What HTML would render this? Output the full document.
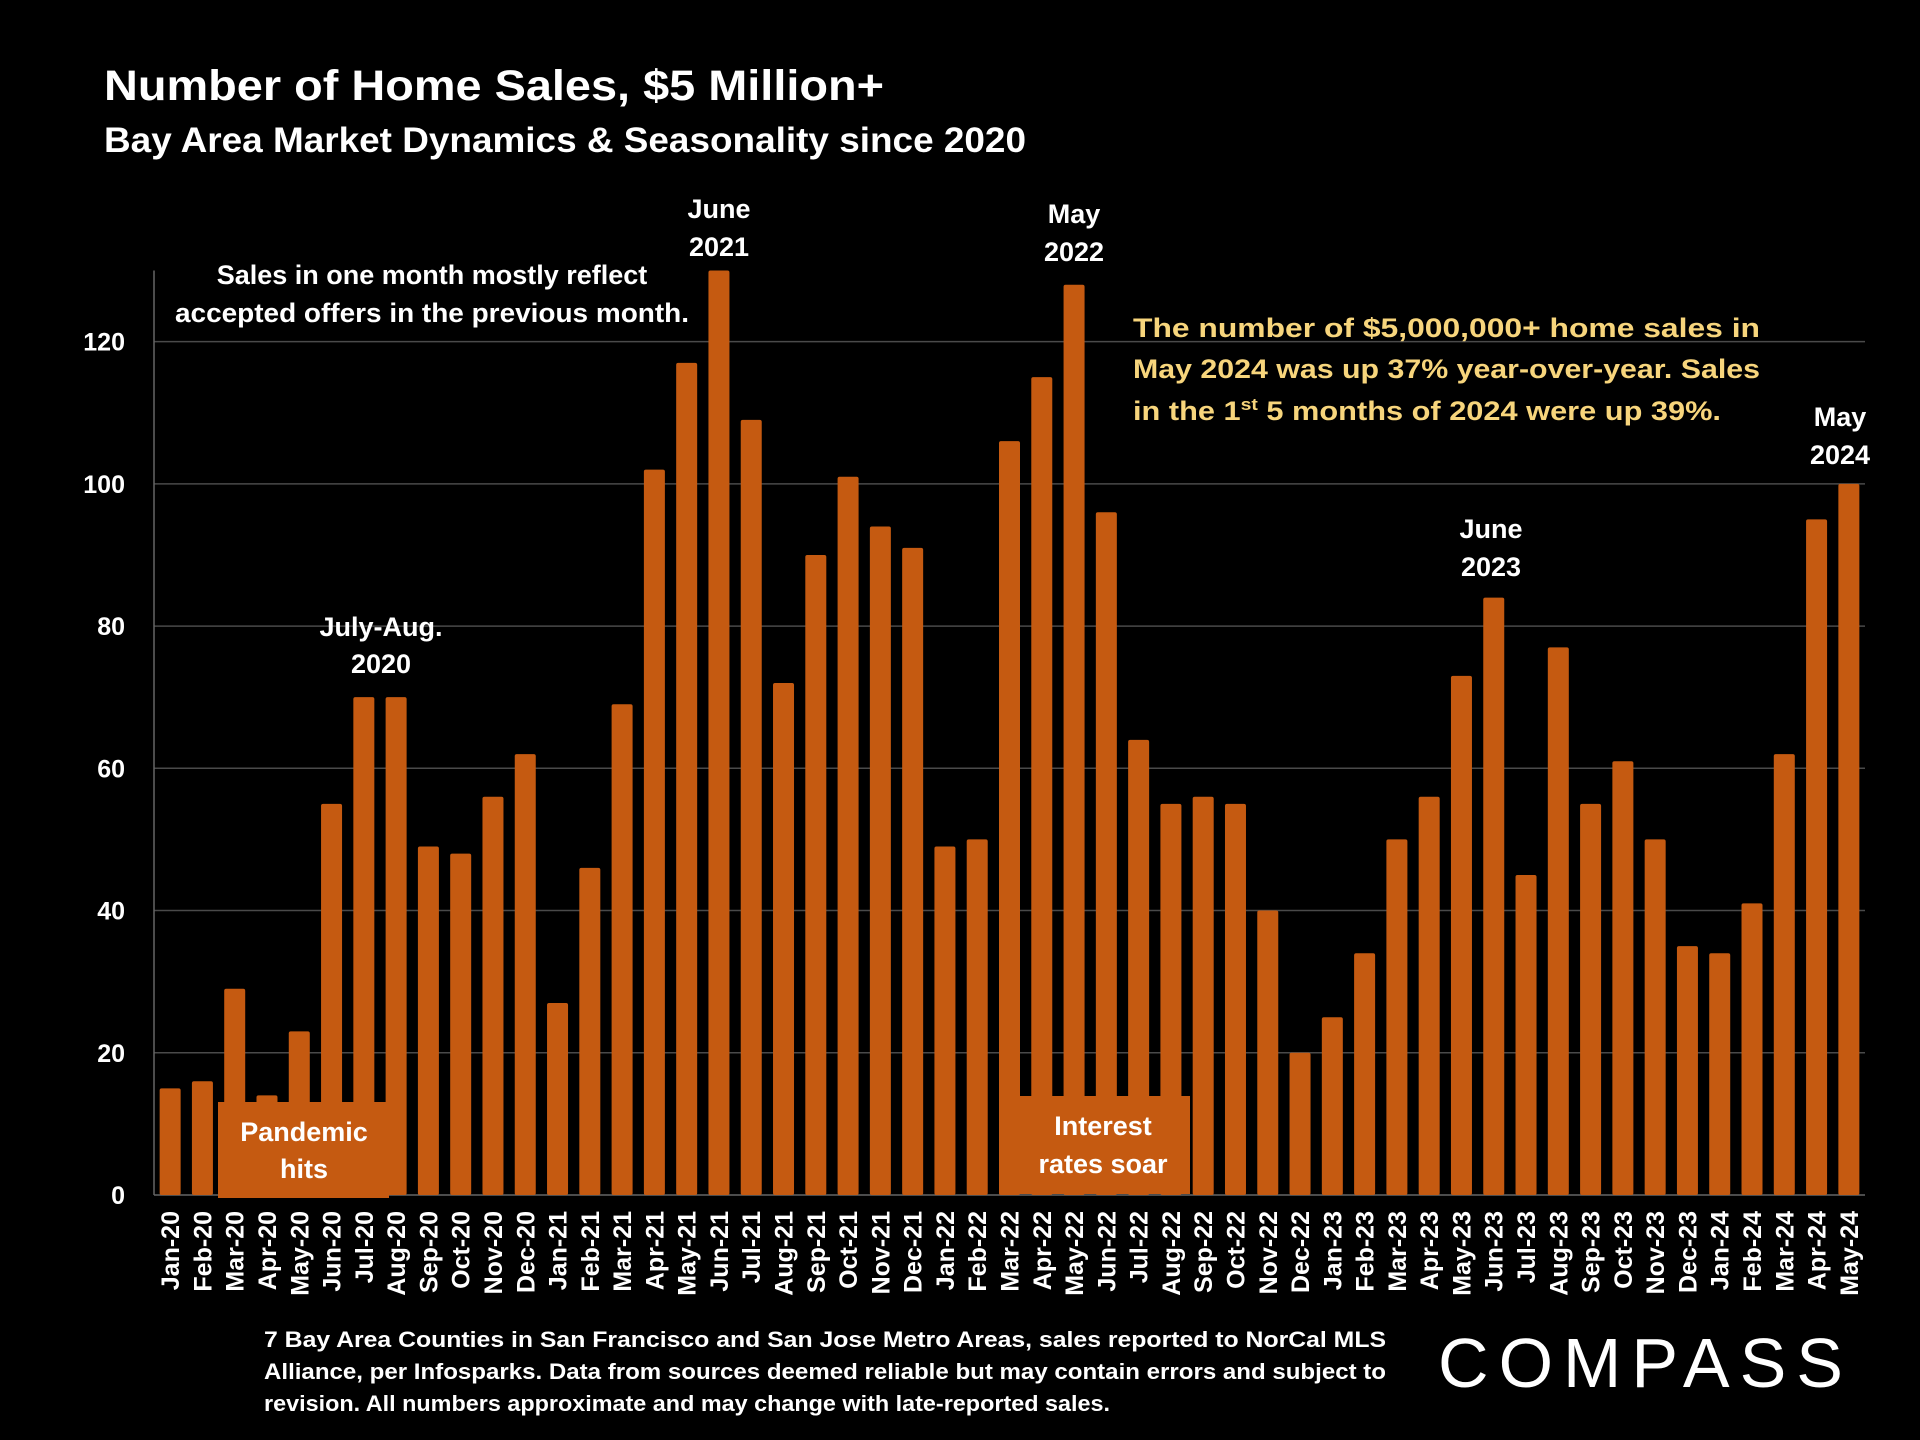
<!DOCTYPE html>
<html><head><meta charset="utf-8"><style>
html,body{margin:0;padding:0;background:#000;}
svg{display:block;font-family:"Liberation Sans",sans-serif;}
</style></head><body>
<svg id="chart" width="1920" height="1440" viewBox="0 0 1920 1440">
<rect width="1920" height="1440" fill="#000"/>
<text x="104" y="100" font-size="43" font-weight="bold" fill="#fff" textLength="780" lengthAdjust="spacingAndGlyphs">Number of Home Sales, $5 Million+</text>
<text x="104" y="152" font-size="35" font-weight="bold" fill="#fff" textLength="922" lengthAdjust="spacingAndGlyphs">Bay Area Market Dynamics &amp; Seasonality since 2020</text>
<g id="grid"></g>
<g id="bars"></g>
<g id="xlabels"></g>
<rect x="218" y="1102" width="171" height="96" fill="#C55A11"/>
<text text-anchor="middle" font-size="27" font-weight="bold" fill="#fff"><tspan x="304" y="1141">Pandemic</tspan><tspan x="304" y="1178">hits</tspan></text>
<rect x="1002" y="1096" width="188" height="98" fill="#C55A11"/>
<text text-anchor="middle" font-size="27" font-weight="bold" fill="#fff"><tspan x="1103" y="1135">Interest</tspan><tspan x="1103" y="1173">rates soar</tspan></text>
<g text-anchor="middle" font-size="27" font-weight="bold" fill="#fff">
<text><tspan x="719" y="218">June</tspan><tspan x="719" y="256">2021</tspan></text>
<text><tspan x="1074" y="223">May</tspan><tspan x="1074" y="261">2022</tspan></text>
<text><tspan x="381" y="636">July-Aug.</tspan><tspan x="381" y="673">2020</tspan></text>
<text><tspan x="1491" y="538">June</tspan><tspan x="1491" y="576">2023</tspan></text>
<text><tspan x="1840" y="426">May</tspan><tspan x="1840" y="464">2024</tspan></text>
</g>
<text font-size="27" font-weight="bold" fill="#fff" text-anchor="middle"><tspan x="432" y="284">Sales in one month mostly reflect</tspan><tspan x="432" y="322" textLength="514" lengthAdjust="spacingAndGlyphs">accepted offers in the previous month.</tspan></text>
<g font-size="27" font-weight="bold" fill="#F7D57C">
<text x="1133" y="337" textLength="627" lengthAdjust="spacingAndGlyphs">The number of $5,000,000+ home sales in</text>
<text x="1133" y="378" textLength="627" lengthAdjust="spacingAndGlyphs">May 2024 was up 37% year-over-year. Sales</text>
<text x="1133" y="420" textLength="588" lengthAdjust="spacingAndGlyphs">in the 1<tspan font-size="17" dy="-10">st</tspan><tspan dy="10"> 5 months of 2024 were up 39%.</tspan></text>
</g>
<g font-size="22" font-weight="bold" fill="#fff">
<text x="264" y="1347" textLength="1122" lengthAdjust="spacingAndGlyphs">7 Bay Area Counties in San Francisco and San Jose Metro Areas, sales reported to NorCal MLS</text>
<text x="264" y="1379" textLength="1122" lengthAdjust="spacingAndGlyphs">Alliance, per Infosparks.  Data from sources deemed reliable but may contain errors and subject to</text>
<text x="264" y="1411" textLength="846" lengthAdjust="spacingAndGlyphs">revision. All numbers approximate and may change with late-reported sales.</text>
</g>
<text x="1438" y="1387" font-size="70" fill="#fff" textLength="405" lengthAdjust="spacing">COMPASS</text>
<script>
const categories=["Jan-20","Feb-20","Mar-20","Apr-20","May-20","Jun-20","Jul-20","Aug-20","Sep-20","Oct-20","Nov-20","Dec-20","Jan-21","Feb-21","Mar-21","Apr-21","May-21","Jun-21","Jul-21","Aug-21","Sep-21","Oct-21","Nov-21","Dec-21","Jan-22","Feb-22","Mar-22","Apr-22","May-22","Jun-22","Jul-22","Aug-22","Sep-22","Oct-22","Nov-22","Dec-22","Jan-23","Feb-23","Mar-23","Apr-23","May-23","Jun-23","Jul-23","Aug-23","Sep-23","Oct-23","Nov-23","Dec-23","Jan-24","Feb-24","Mar-24","Apr-24","May-24"];
const sales=[15,16,29,14,23,55,70,70,49,48,56,62,27,46,69,102,117,130,109,72,90,101,94,91,49,50,106,115,128,96,64,55,56,55,40,20,25,34,50,56,73,84,45,77,55,61,50,35,34,41,62,95,100];
const yTicks=[0,20,40,60,80,100,120];
const NS="http://www.w3.org/2000/svg";
const plotL=154,plotR=1865,y0=1195,pxPerUnit=(1195-341.6)/120;
const step=(plotR-plotL)/categories.length;
function xScale(i){return plotL+step*(i+0.5);}
function yScale(v){return y0-v*pxPerUnit;}
function mk(tag,attrs,parent){const e=document.createElementNS(NS,tag);for(const k in attrs)e.setAttribute(k,attrs[k]);parent.appendChild(e);return e;}
const grid=document.getElementById('grid');
yTicks.forEach(t=>{
  if(t>0){const l=mk('line',{x1:plotL,x2:plotR,y1:yScale(t),y2:yScale(t),stroke:'#4a4a4a','stroke-width':1.5},grid);
  
  }
  const tx=mk('text',{x:125,y:yScale(t)+9,'text-anchor':'end','font-size':25,'font-weight':'bold',fill:'#fff'},grid);
  tx.textContent=t;
  
  
});
const ax=mk('line',{x1:plotL,x2:plotL,y1:yScale(130),y2:y0,stroke:'#666','stroke-width':1.5},grid);


const bx=mk('line',{x1:plotL,x2:plotR,y1:y0,y2:y0,stroke:'#666','stroke-width':1.5},grid);


const bars=document.getElementById('bars'),xl=document.getElementById('xlabels');
const bw=21;
sales.forEach((v,i)=>{
  const cx=xScale(i);
  const r=mk('rect',{x:cx-bw/2,y:yScale(v),width:bw,height:v*pxPerUnit,fill:'#C55A11',rx:2},bars);
  
  
  const t=mk('text',{x:0,y:0,transform:'translate('+(cx+9)+',1211) rotate(-90)','text-anchor':'end','font-size':25,'font-weight':'bold',fill:'#fff'},xl);
  t.textContent=categories[i];
  
  
});
</script>
</svg>
</body></html>
